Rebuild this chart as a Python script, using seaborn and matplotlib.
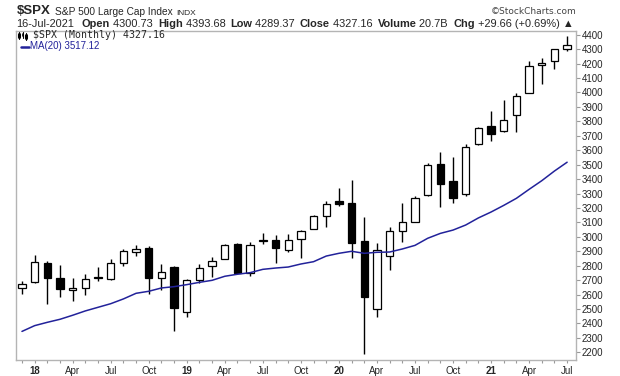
import matplotlib
matplotlib.use('Agg')
import numpy as np
import pandas as pd
import matplotlib.pyplot as plt
from matplotlib.lines import Line2D
import seaborn as sns

# 月K线数据 Dec-2017 .. Jul-2021
month_labels = ['Dec17', 'Jan18', 'Feb18', 'Mar18', 'Apr18', 'May18', 'Jun18', 'Jul18', 'Aug18', 'Sep18',
                'Oct18', 'Nov18', 'Dec18', 'Jan19', 'Feb19', 'Mar19', 'Apr19', 'May19', 'Jun19', 'Jul19',
                'Aug19', 'Sep19', 'Oct19', 'Nov19', 'Dec19', 'Jan20', 'Feb20', 'Mar20', 'Apr20', 'May20',
                'Jun20', 'Jul20', 'Aug20', 'Sep20', 'Oct20', 'Nov20', 'Dec20', 'Jan21', 'Feb21', 'Mar21',
                'Apr21', 'May21', 'Jun21', 'Jul21']
open_ = [2645, 2684, 2816, 2715, 2633, 2643, 2719, 2705, 2821, 2897,
         2926, 2718, 2790, 2477, 2702, 2798, 2849, 2952, 2752, 2971,
         2980, 2909, 2984, 3051, 3144, 3245, 3236, 2974, 2498, 2869,
         3039, 3106, 3288, 3507, 3386, 3296, 3646, 3765, 3731, 3843,
         3993, 4192, 4217, 4301]
high = [2695, 2873, 2836, 2802, 2717, 2742, 2791, 2848, 2917, 2941,
        2940, 2815, 2800, 2709, 2813, 2860, 2950, 2954, 2964, 3028,
        3014, 3022, 3050, 3154, 3248, 3338, 3394, 3137, 2955, 3069,
        3233, 3280, 3515, 3588, 3550, 3646, 3760, 3871, 3950, 3994,
        4219, 4238, 4302, 4394]
low = [2606, 2682, 2533, 2586, 2554, 2595, 2692, 2699, 2796, 2864,
       2604, 2631, 2347, 2444, 2682, 2722, 2849, 2751, 2729, 2952,
       2822, 2892, 2856, 3051, 3070, 3215, 2856, 2192, 2447, 2767,
       2966, 3101, 3285, 3209, 3234, 3280, 3633, 3663, 3726, 3723,
       3993, 4057, 4164, 4289]
close = [2674, 2824, 2714, 2641, 2648, 2705, 2718.4, 2816, 2902, 2914,
         2712, 2760, 2507, 2704, 2784, 2834, 2946, 2752, 2942, 2980,
         2926, 2977, 3038, 3141, 3231, 3226, 2954, 2585, 2912, 3044,
         3100, 3271, 3500, 3363, 3270, 3622, 3756, 3714, 3811, 3973,
         4181, 4204, 4298, 4327]
ma20 = [2345, 2385, 2408, 2429, 2457, 2487, 2512, 2537, 2570, 2609,
        2623, 2646, 2655, 2669, 2685, 2699, 2727, 2741, 2752, 2775,
        2784, 2791, 2812, 2828, 2867, 2886, 2900, 2886, 2893, 2895,
        2916, 2941, 2990, 3024, 3047, 3082, 3131, 3172, 3218, 3267,
        3329, 3389, 3456, 3517]

tick_pos = [1, 4, 7, 10, 13, 16, 19, 22, 25, 28, 31, 34, 37, 40, 43]
tick_text = ['18', 'Apr', 'Jul', 'Oct', '19', 'Apr', 'Jul', 'Oct', '20', 'Apr', 'Jul', 'Oct', '21', 'Apr', 'Jul']

df = pd.DataFrame({'idx': np.arange(len(month_labels)), 'open': open_, 'high': high,
                   'low': low, 'close': close, 'ma': ma20})

sns.set_style('white')
plt.rcParams['font.family'] = ['Liberation Sans', 'DejaVu Sans']

W, H = 620, 376
fig = plt.figure(figsize=(W / 100, H / 100), dpi=100)
ax = fig.add_axes([16 / W, 1 - 360 / H, (576 - 16) / W, (360 - 30.7) / H])

# 蜡烛图 wick + body
for _, r in df.iterrows():
    ax.vlines(r['idx'], r['low'], r['high'], color='black', lw=1, zorder=2)
    up = r['close'] >= r['open']
    ax.bar(r['idx'], max(abs(r['close'] - r['open']), 1), bottom=min(r['open'], r['close']),
           width=0.58, color='white' if up else 'black', edgecolor='black', linewidth=0.9, zorder=3)

# MA(20)
sns.lineplot(data=df, x='idx', y='ma', color='#22229a', lw=1.1, ax=ax, zorder=4)

ax.set_xlim(-0.47, 43.7)
ax.set_ylim(2147, 4428)
ax.set_xlabel('')
ax.set_ylabel('')

ax.set_xticks(tick_pos)
ax.set_xticklabels(tick_text)
ax.set_xticks(df['idx'], minor=True)
for lab in ax.get_xticklabels():
    if lab.get_text().isdigit():
        lab.set_fontweight('bold')
ax.yaxis.tick_right()
ax.set_yticks(np.arange(2200, 4401, 100))
ax.tick_params(axis='x', which='both', direction='out', length=2.5, width=0.8, color='#999999',
               labelsize=7, pad=1.5, bottom=True)
ax.tick_params(axis='y', direction='out', length=3, width=0.8, color='#999999',
               labelsize=7, pad=1, right=True, left=False)
for s in ax.spines.values():
    s.set_color('#b4b4b4')
    s.set_linewidth(1)


def px(x, y):
    return x / W, 1 - y / H


# 标题
t1 = fig.text(*px(16.5, 14), '$SPX', fontsize=9.5, fontweight='bold', va='baseline')
t2 = ax.annotate('S&P 500 Large Cap Index', xy=(1, 0), xycoords=t1, xytext=(3, 0),
                 textcoords='offset points', fontsize=7.3, va='bottom', annotation_clip=False)
ax.annotate('INDX', xy=(1, 0), xycoords=t2, xytext=(3, 0), textcoords='offset points',
            fontsize=6, va='bottom', annotation_clip=False)
fig.text(*px(577, 14), '\u00a9StockCharts.com', fontsize=6.5, color='#444444', ha='right',
         va='baseline', family=['DejaVu Sans'])

parts = [('16-Jul-2021', 'normal', 0), ('Open', 'bold', 8), (' 4300.73', 'normal', 0),
         ('High', 'bold', 5), (' 4393.68', 'normal', 0), ('Low', 'bold', 5), (' 4289.37', 'normal', 0),
         ('Close', 'bold', 5), (' 4327.16', 'normal', 0), ('Volume', 'bold', 5), (' 20.7B', 'normal', 0),
         ('Chg', 'bold', 5), (' +29.66 (+0.69%) \u25b2', 'normal', 0)]
prev = fig.text(*px(16, 26.7), parts[0][0], fontsize=7.95, va='baseline')
for txt, wt, gap in parts[1:]:
    prev = ax.annotate(txt, xy=(1, 0), xycoords=prev, xytext=(gap * 0.72, 0), textcoords='offset points',
                       fontsize=7.95, fontweight=wt, va='bottom', annotation_clip=False)

# 图例
fig.text(*px(33, 38.5), '$SPX (Monthly) 4327.16', fontsize=7.1, family=['DejaVu Sans Mono'],
         va='baseline')
for xx, y0, y1, fill in [(19, 32, 39, True), (22.5, 31.5, 38, False), (26, 32.5, 39.5, True)]:
    fig.add_artist(Line2D([xx / W, xx / W], [1 - y1 / H, 1 - y0 / H], color='black', lw=0.8))
    fig.add_artist(Line2D([xx / W, xx / W], [1 - (y1 - 2) / H, 1 - (y0 + 2) / H], color='black',
                          lw=2.2 if fill else 1.2))
fig.add_artist(Line2D([20.5 / W, 28.5 / W], [1 - 46.7 / H, 1 - 46.7 / H], color='#22229a', lw=1.8))
fig.text(*px(30, 49.3), 'MA(20) 3517.12', fontsize=7, color='#22229a', va='baseline')

fig.savefig('out.png', dpi=100)
